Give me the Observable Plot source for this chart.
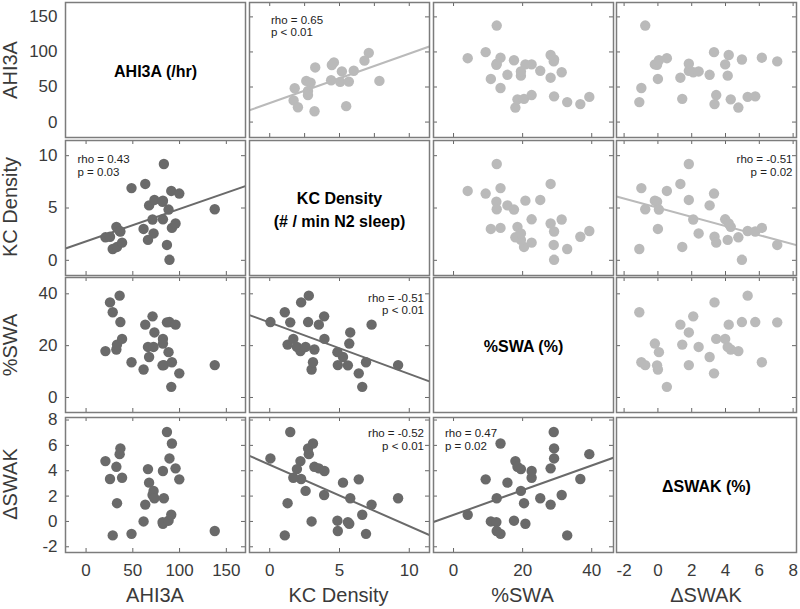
<!DOCTYPE html>
<html><head><meta charset="utf-8">
<script src="https://cdn.jsdelivr.net/npm/d3@7"></script>
<script src="https://cdn.jsdelivr.net/npm/@observablehq/plot@0.6"></script>
<style>
body{margin:0;background:#fff;}
#chart{position:relative;width:800px;height:609px;font-family:Helvetica,"Liberation Sans",Arial,sans-serif;color:#3a3a3a;overflow:hidden;}
#chart svg{position:absolute;overflow:visible;}
.ytitle{position:absolute;font-size:20px;white-space:nowrap;transform:translate(-50%,-50%) rotate(-90deg);}
.xtitle{position:absolute;font-size:20px;white-space:nowrap;transform:translate(-50%,-50%);}
</style></head>
<body><div id="chart"></div>
<script>
// ---- data: one entry per subject (lower triangle, dark; upper triangle mirrors it) ----
const ahi   = [20.7, 25.6, 28.5, 32.4, 33.1, 35.9, 36.7, 38.5, 48.6, 61.5, 63.3, 66.2, 67.4, 71.1, 72.2, 73.1, 82.2, 82.2, 81.8, 83.2, 86.5, 88.2, 89.2, 91.1, 91.8, 95.7, 99.7, 137.6];
const kc    = [2.2, 2.25, 1.08, 3.2, 1.28, 2.8, 2.75, 1.69, 6.9, 3.0, 7.3, 1.95, 5.25, 3.9, 2.57, 5.77, 3.92, 5.7, 5.6, 9.2, 1.47, 4.85, 0.05, 6.63, 3.1, 3.52, 6.38, 4.88];
const swa   = [17.9, 36.7, 32.9, 18.5, 20.4, 39.3, 29.1, 22.6, 13.6, 10.8, 28.1, 19.5, 15.6, 31.3, 19.5, 25.1, 22.6, 20.8, 12.4, 12.5, 29.0, 17.5, 29.1, 4.1, 13.6, 28.1, 9.3, 12.5];
const dswak = [4.76, 3.35, -1.1, 4.31, 1.44, 5.31, 5.76, 3.45, -0.98, 0.0, 1.33, 4.13, 3.06, 2.09, 2.41, 1.83, 3.98, -0.18, -0.05, 1.83, 7.06, 0.06, 4.97, 0.53, 6.15, 4.19, 3.32, -0.75];
// upper panel AHI3A vs KC Density (different set of points)
const kcUpper  = [7.1, 6.79, 4.6, 4.45, 3.26, 5.17, 6.02, 4.4, 5.05, 5.67, 7.86, 2.62, 2.93, 1.79, 2.74, 2.74, 1.71, 2.02, 3.21, 5.48];
const ahiUpper = [98.7, 87.6, 85.1, 81.4, 77.9, 72.2, 73.2, 59.7, 57.3, 57.7, 58.7, 58.7, 56.3, 48.2, 44.3, 38.5, 30.9, 21.2, 15.4, 22.7];

const names      = ["AHI3A", "KC Density", "%SWA", "\u0394SWAK"];
const diagLabels = ["AHI3A (/hr)", "KC Density\n(# / min N2 sleep)", "%SWA (%)", "\u0394SWAK (%)"];
const ahiTicks = [0, 50, 100, 150];
const kcTicks = [0, 5, 10];
const swaTicks = [0, 20, 40];
const dswakTicks = [-2, 0, 2, 4, 6, 8];
const kcUpperTicks = [0, 2.5, 5, 7.5, 10];
// statistics text: [row, col, line1, line2]
const stats = [
  [0, 1, "rho = 0.65", "p < 0.01"],
  [1, 0, "rho = 0.43", "p = 0.03"],
  [1, 3, "rho = -0.51", "p = 0.02"],
  [2, 1, "rho = -0.51", "p < 0.01"],
  [3, 1, "rho = -0.52", "p < 0.01"],
  [3, 2, "rho = 0.47", "p = 0.02"]
];

// ---- layout ----
const vals = [ahi, kc, swa, dswak];
const domains = [[-22, 170.5], [-1.45, 11.45], [-5.8, 46.3], [-2.45, 8.2]];
const ticks = [ahiTicks, kcTicks, swaTicks, dswakTicks];
const W = 180, H = 135;
const colLeft = [65, 248.5, 432.5, 616];
const rowTop = [2, 139.5, 277, 416.5];
const dark = "#6a6a6a", light = "#bababa", frameC = "#7c7c7c", tickC = "#666";
// stat text placement: [anchor, dx, dy]
const statPos = {"0,1": ["left", 21.5, 13], "1,0": ["left", 12, 14.5], "1,3": ["right", -4, 14.5],
                 "2,1": ["right", -5.5, 16], "3,1": ["right", -5.5, 11.5], "3,2": ["left", 11.5, 11.5]};

function ols(xs, ys) {
  const mx = d3.mean(xs), my = d3.mean(ys);
  let sxy = 0, sxx = 0;
  for (let i = 0; i < xs.length; i++) { sxy += (xs[i]-mx)*(ys[i]-my); sxx += (xs[i]-mx)**2; }
  const b = sxy / sxx;
  return [b, my - b*mx];
}
const fmt = d => String(d);

const chart = document.getElementById("chart");
const fam = 'Helvetica,"Liberation Sans",Arial,sans-serif';

for (let r = 0; r < 4; r++) {
  for (let c = 0; c < 4; c++) {
    const ml = c === 0 ? 65 : 0, mb = r === 3 ? 58 : 0;
    const special = (r === 0 && c === 1);
    const xs = special ? kcUpper : vals[c];
    const ys = special ? ahiUpper : vals[r];
    const xt = special ? kcUpperTicks : ticks[c];
    const yt = ticks[r];
    const col = r > c ? dark : light;
    const marks = [];
    if (r !== c) {
      const pts = xs.map((x, i) => ({x, y: ys[i]}));
      const key = r + "," + c;
      const st = stats.find(s => s[0] === r && s[1] === c);
      if (st) {
        const [b, a] = ols(xs, ys);
        const d = domains[c];
        marks.push(Plot.line([{x: d[0], y: a + b*d[0]}, {x: d[1], y: a + b*d[1]}],
          {x: "x", y: "y", stroke: col, strokeWidth: 2, clip: true}));
      }
      marks.push(Plot.dot(pts, {x: "x", y: "y", r: 5.2, fill: col, stroke: "none"}));
      if (st) {
        const [anc, dx, dy] = statPos[key];
        const fa = anc === "left" ? "top-left" : "top-right";
        const ta = anc === "left" ? "start" : "end";
        [st[2], st[3]].forEach((t, k) => {
          marks.push(Plot.text([t], {text: d => d, frameAnchor: fa, textAnchor: ta, dx, dy: dy + k*12.8,
            fontSize: 11.5, fill: "#222"}));
        });
      }
      // inward ticks on all four sides
      marks.push(Plot.tickX(xt, {x: d => d, insetTop: H - 4, stroke: tickC}));
      marks.push(Plot.tickX(xt, {x: d => d, insetBottom: H - 4, stroke: tickC}));
      marks.push(Plot.tickY(yt, {y: d => d, insetRight: W - 4, stroke: tickC}));
      marks.push(Plot.tickY(yt, {y: d => d, insetLeft: W - 4, stroke: tickC}));
    } else {
      marks.push(Plot.text([diagLabels[r]], {text: d => d, frameAnchor: "middle", fontWeight: "bold",
        fontSize: 16, lineHeight: 1.45, fill: "#000"}));
    }
    marks.push(Plot.frame({stroke: frameC, strokeWidth: 1.5}));
    if (c === 0) marks.push(Plot.axisY(yt, {tickSize: 0, tickPadding: 8, fontSize: 17, label: null, tickFormat: fmt}));
    if (r === 3) marks.push(Plot.axisX(ticks[c], {tickSize: 0, tickPadding: 11, fontSize: 17, label: null, tickFormat: fmt}));
    const p = Plot.plot({
      width: W + ml, height: H + mb,
      marginLeft: ml, marginRight: 0, marginTop: 0, marginBottom: mb,
      x: {domain: special ? domains[1] : domains[c], axis: null},
      y: {domain: domains[r], axis: null},
      style: {fontFamily: fam, color: "#3a3a3a", background: "transparent", overflow: "visible"},
      marks
    });
    p.style.left = (colLeft[c] - ml) + "px";
    p.style.top = rowTop[r] + "px";
    chart.appendChild(p);
  }
}
// axis titles
for (let i = 0; i < 4; i++) {
  const yt = document.createElement("div");
  yt.className = "ytitle"; yt.textContent = names[i];
  yt.style.left = "10px"; yt.style.top = (rowTop[i] + H/2) + "px";
  chart.appendChild(yt);
  const xt = document.createElement("div");
  xt.className = "xtitle"; xt.textContent = names[i];
  xt.style.left = (colLeft[i] + W/2) + "px"; xt.style.top = "595px";
  chart.appendChild(xt);
}
</script>
</body></html>
